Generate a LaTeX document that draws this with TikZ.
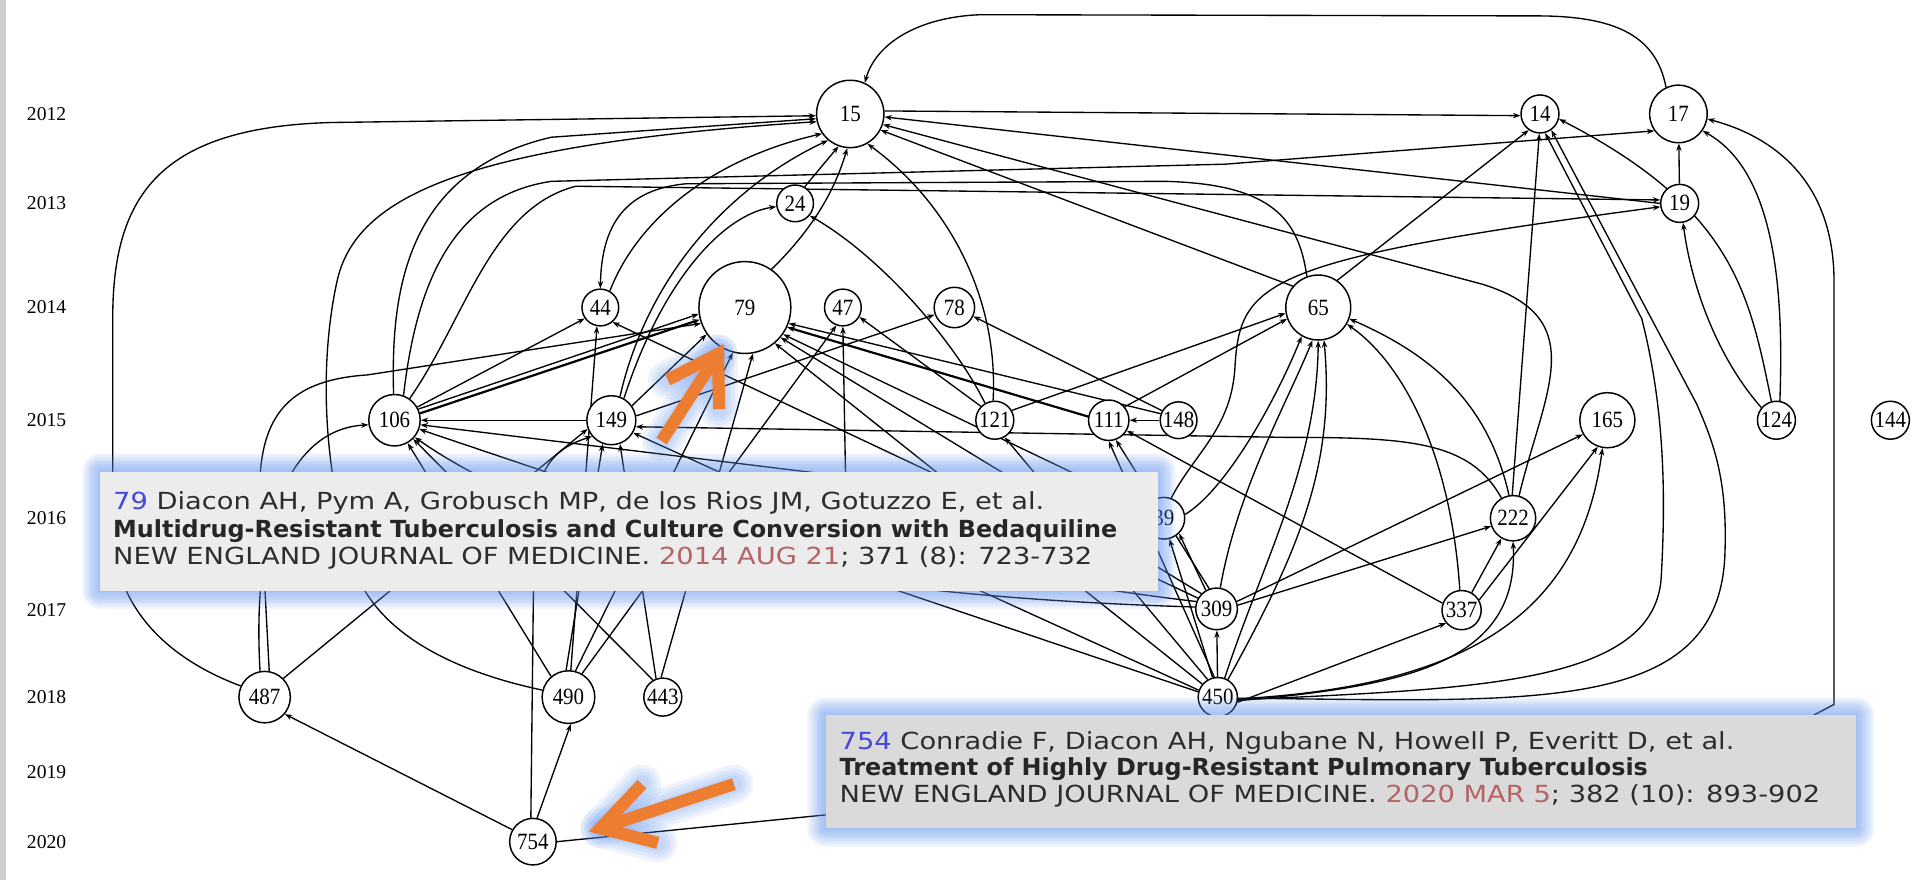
\documentclass[tikz,border=0pt]{standalone}
\usepackage{fontspec}
\setmainfont{Liberation Serif}
\newfontfamily\popfont[FakeStretch=1.16]{DejaVu Sans}
\newfontfamily\popb[FakeStretch=1.015]{DejaVu Sans}
\newfontfamily\nodefont[FakeStretch=0.9]{Liberation Serif}
\usetikzlibrary{arrows.meta}
\pgfdeclarelayer{edgelayer}
\pgfsetlayers{edgelayer,main}
\definecolor{glowblue}{RGB}{95,145,240}
\definecolor{orng}{RGB}{237,125,49}
\definecolor{numblue}{RGB}{70,70,220}
\definecolor{datered}{RGB}{180,100,100}
\definecolor{txtgray}{RGB}{45,45,45}
\definecolor{popA}{RGB}{236,236,236}
\definecolor{popB}{RGB}{218,218,218}
\definecolor{barg}{RGB}{205,205,205}
\begin{document}
\begin{tikzpicture}[x=0.5pt,y=-0.5pt,
  cn/.style={circle,draw,line width=0.6pt,inner sep=0pt,minimum size=#1*0.5pt,fill=white,
    font=\nodefont\fontsize{9.5}{10}\selectfont},
  e/.style={line width=0.55pt,-{Stealth[length=3pt,width=2.2pt]}},
  yr/.style={font=\fontsize{8}{9}\selectfont},
  poptxt/.style={anchor=base west,inner sep=0pt,text=txtgray,font=\popfont\fontsize{9.6}{11}\selectfont},
  popbold/.style={anchor=base west,inner sep=0pt,text=black!85,font=\popb\bfseries\fontsize{9.6}{11}\selectfont},
]
\useasboundingbox (0,0) rectangle (1568,718);
\begin{pgfonlayer}{edgelayer}
\fill[white] (0,0) rectangle (1568,718);
\end{pgfonlayer}
\fill[barg] (0,0) rectangle (5,718);

% years
\foreach \yy/\yv in {2012/93,2013/166,2014/251,2015/343,2016/423,2017/498,2018/569,2019/630,2020/687}
  \node[yr] (y\yy) at (38,\yv) {\yy};

% nodes
\node[cn=55] (n15) at (694,93) {15};
\node[cn=31] (n14) at (1257,93) {14};
\node[cn=47] (n17) at (1370,93) {17};
\node[cn=30] (n24) at (649,166) {24};
\node[cn=31] (n19) at (1371,166) {19};
\node[cn=30] (n44) at (490,251) {44};
\node[cn=75] (n79) at (608,251) {79};
\node[cn=30] (n47) at (688,251) {47};
\node[cn=33] (n78) at (779,251) {78};
\node[cn=53] (n65) at (1076,251) {65};
\node[cn=42] (n106) at (322,343) {106};
\node[cn=40] (n149) at (499,343) {149};
\node[cn=31] (n121) at (812,343) {121};
\node[cn=33] (n111) at (905,343) {111};
\node[cn=30] (n148) at (962,343) {148};
\node[cn=45] (n165) at (1312,343) {165};
\node[cn=31] (n124) at (1450,343) {124};
\node[cn=31] (n144) at (1543,343) {144};
\node[cn=34] (n39) at (950,423) {39};
\node[cn=37] (n222) at (1235,423) {222};
\node[cn=34] (n309) at (993,497) {309};
\node[cn=32] (n337) at (1193,498) {337};
\node[cn=42] (n487) at (216,569) {487};
\node[cn=43] (n490) at (464,569) {490};
\node[cn=31] (n443) at (541,569) {443};
\node[cn=32] (n450) at (994,569) {450};
\node[cn=38] (n754) at (435,687) {754};

\begin{pgfonlayer}{edgelayer}
% top area
\draw[e] (n17.115) .. controls (1352,30) and (1320,14) .. (1260,13) -- (800,12) .. controls (750,14) and (715,35) .. (n15.65);
\draw[e] (n19) -- (n17);
\draw[e] (n124.80) .. controls (1456,240) and (1450,140) .. (n17.-35);
\draw[e] (n124.105) .. controls (1428,240) and (1415,170) .. (n14.-15);
\draw[e] (n124.140) .. controls (1400,290) and (1380,230) .. (n19.-80);
\draw[e] (n754.east) -- (1478,585) -- (1497,575) -- (1497,230) .. controls (1497,150) and (1450,112) .. (n17.-10);
\draw[e] (n65.55) -- (n14.-125);
\draw[e] (n222.92) -- (n14.-92);
\draw[e] (n450.-3) .. controls (1250,572) and (1405,585) .. (1408,450) .. controls (1410,390) and (1398,360) .. (1385,330) -- (n14.-55);
\draw[e] (n450.-8) .. controls (1200,562) and (1352,560) .. (1356,470) .. controls (1360,400) and (1358,330) .. (1340,260) -- (n14.-75);
\draw[e] (n15.5) -- (n14.185);
\draw[e] (n19.180) -- (n15.-5);
\draw[e] (n65.140) -- (n15.-28);
\draw[e] (n222.75) .. controls (1260,320) and (1300,260) .. (1210,232) -- (n15.-18);
\draw[e] (n106.70) .. controls (340,230) and (370,160) .. (450,148) -- (1000,134) -- (n17.-145);
\draw[e] (n106.55) .. controls (380,260) and (400,170) .. (470,152) -- (n19.170);
% into 15 from the left and below
\draw[e] (n487.155) .. controls (130,535) and (92,490) .. (92,430) -- (92,260) .. controls (92,160) and (130,104) .. (270,100) -- (n15.183);
\draw[e] (n106.92) .. controls (319,240) and (330,140) .. (450,112) -- (n15.188);
\draw[e] (n490.165) .. controls (380,550) and (300,520) .. (285,450) .. controls (262,370) and (262,290) .. (275,230) .. controls (290,160) and (380,118) .. (n15.193);
\draw[e] (n44.60) .. controls (520,180) and (580,130) .. (n15.215);
\draw[e] (n24.60) -- (n15.-110);
\draw[e] (n79.55) .. controls (660,190) and (680,160) .. (n15.-95);
\draw[e] (n121.95) .. controls (815,250) and (780,170) .. (n15.-60);
\draw[e] (n149.70) .. controls (530,220) and (600,150) .. (n15.230);
% 44, 24
\draw[e] (n65.110) .. controls (1060,180) and (1040,150) .. (950,148) -- (560,150) .. controls (505,155) and (491,190) .. (n44.90);
\draw[e] (n106.30) -- (n44.215);
\draw[e] (n490.85) -- (n44.-100);
\draw[e] (n309.150) -- (n44.-50);
\draw[e] (n149.60) .. controls (540,230) and (590,175) .. (n24.190);
\draw[e] (n121.120) .. controls (780,280) and (720,210) .. (n24.-40);
% 79
\draw[e,line width=0.9pt] (n106.15) -- (n79.195);
\draw[e] (n106.25) -- (n79.188);
\draw[e] (n487.80) -- (212,400) .. controls (212,335) and (240,310) .. (300,306) -- (n79.200);
\draw[e] (n149.35) -- (n79.215);
\draw[e] (n490.75) -- (n79.-105);
\draw[e] (n443.95) -- (n79.-80);
\draw[e,line width=0.9pt] (n111.170) -- (n79.-25);
\draw[e] (n148.160) -- (n79.-20);
\draw[e] (n309.135) -- (n79.-40);
\draw[e] (n450.140) -- (n79.-50);
\draw[e] (n39.150) -- (n79.-35);
% 106
\draw[e] (n149) -- (n106);
\draw[e] (n450.165) -- (n106.-20);
\draw[e] (n309.175) .. controls (800,490) and (500,470) .. (n106.-40);
\draw[e] (n443.120) -- (n106.-45);
\draw[e] (n490.130) -- (n106.-60);
\draw[e] (n487.100) .. controls (205,420) and (240,350) .. (n106.190);
\draw[e] (n39.165) -- (n106.-10);
\draw[e] (n222.120) .. controls (1200,360) and (1150,357) .. (1050,357) -- (n149.-15);
% 149
\draw[e] (n490.95) -- (n149.-110);
\draw[e] (n443.110) -- (n149.-70);
\draw[e] (n754.95) -- (436,430) .. controls (436,380) and (455,365) .. (n149.-140);
\draw[e] (n487.45) -- (n149.-160);
\draw[e] (n450.160) -- (n149.-30);
% 47, 78
\draw[e] (n121.135) -- (n47.-30);
\draw[e] (n490.60) -- (n47.-110);
\draw[e] (n309.160) .. controls (800,470) and (690,440) .. (690,380) -- (n47.-90);
\draw[e] (n149.10) -- (n78.200);
\draw[e] (n148.150) -- (n78.-25);
% 487, 490
\draw[e] (n754.150) -- (n487.-40);
\draw[e] (n754.80) -- (n490.-85);
% 65
\draw[e] (n111.40) -- (n65.200);
\draw[e] (n121.30) -- (n65.190);
\draw[e] (n39.10) .. controls (1000,400) and (1040,330) .. (n65.-120);
\draw[e] (n309.80) .. controls (1010,400) and (1050,330) .. (n65.-100);
\draw[e] (n450.70) .. controls (1030,460) and (1075,380) .. (n65.-90);
\draw[e] (n450.60) .. controls (1060,450) and (1090,380) .. (n65.-80);
\draw[e] (n337.95) .. controls (1185,380) and (1150,300) .. (n65.-30);
\draw[e] (n222.100) .. controls (1215,330) and (1170,290) .. (n65.-20);
% 111, 148, 121, 19
\draw[e] (n148) -- (n111);
\draw[e] (n450.100) -- (n111.-90);
\draw[e] (n309.110) -- (n111.-70);
\draw[e] (n337.160) -- (n111.-30);
\draw[e] (n450.120) -- (n121.-60);
\draw[e] (n39.70) .. controls (975,370) and (1005,350) .. (1008,300) .. controls (1012,230) and (1030,212) .. (n19.190);
% 39
\draw[e] (n309.120) -- (n39.-45);
\draw[e] (n450.105) -- (n39.-75);
% 309, 337, 222, 165
\draw[e] (n450) -- (n309);
\draw[e] (n450.-15) -- (n337.-140);
\draw[e] (n309.20) -- (n165.-150);
\draw[e] (n309.10) -- (n222.-160);
\draw[e] (n337.60) -- (n222.-120);
\draw[e] (n337.30) -- (n165.-110);
\draw[e] (n450.-10) .. controls (1150,560) and (1240,540) .. (n222.-90);
\draw[e] (n450.-5) .. controls (1200,560) and (1290,500) .. (n165.-100);
\end{pgfonlayer}

% popup 79
\foreach \w in {30,27,24,21,18,15,12,9,6,3}
  \draw[glowblue,line width=\w*0.5pt,opacity=0.075,line join=round] (82,385) rectangle (945,482);
\fill[popA] (82,385) rectangle (945,482);
\node[poptxt] (p1a) at (92,416) {\textcolor{numblue}{79} Diacon AH, Pym A, Grobusch MP, de los Rios JM, Gotuzzo E, et al.};
\node[popbold] (p1b) at (92,439) {Multidrug-Resistant Tuberculosis and Culture Conversion with Bedaquiline};
\node[poptxt] (p1c) at (92,461) {NEW ENGLAND JOURNAL OF MEDICINE. \textcolor{datered}{2014 AUG 21}; 371 (8): 723-732};

% popup 754
\foreach \w in {30,27,24,21,18,15,12,9,6,3}
  \draw[glowblue,line width=\w*0.5pt,opacity=0.075,line join=round] (674,584) rectangle (1515,676);
\fill[popB] (674,584) rectangle (1515,676);
\node[poptxt] (p2a) at (685,612) {\textcolor{numblue}{754} Conradie F, Diacon AH, Ngubane N, Howell P, Everitt D, et al.};
\node[popbold] (p2b) at (685,633) {Treatment of Highly Drug-Resistant Pulmonary Tuberculosis};
\node[poptxt] (p2c) at (685,655) {NEW ENGLAND JOURNAL OF MEDICINE. \textcolor{datered}{2020 MAR 5}; 382 (10): 893-902};

% orange arrows with soft glow
\foreach \w in {16,13,10,7}{
  \draw[glowblue,opacity=0.1,line width=\w pt,line cap=round,line join=round] (540,360) -- (586,289);
  \draw[glowblue,opacity=0.1,line width=\w pt,line cap=round,line join=round] (545,310) -- (586,289) -- (587,334);
  \draw[glowblue,opacity=0.1,line width=\w pt,line cap=round,line join=round] (599,640) -- (490,676);
  \draw[glowblue,opacity=0.1,line width=\w pt,line cap=round,line join=round] (524,640) -- (490,676) -- (537,688);
}
\draw[orng,line width=5pt] (540,360) -- (584,292);
\draw[orng,line width=5pt,line join=miter] (545,310) -- (586,289) -- (587,334);
\draw[orng,line width=5pt] (599,640) -- (493,675);
\draw[orng,line width=5pt,line join=miter] (524,640) -- (490,676) -- (537,688);
\end{tikzpicture}
\end{document}
